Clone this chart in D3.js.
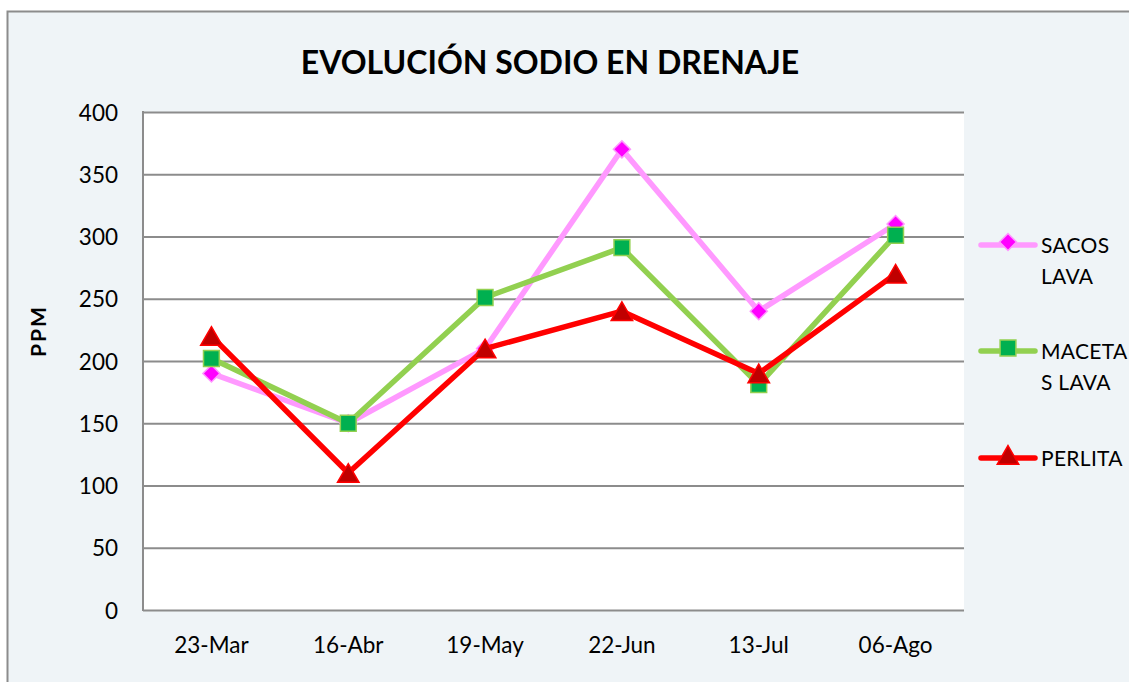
<!DOCTYPE html>
<html>
<head>
<meta charset="utf-8">
<script src="https://cdn.jsdelivr.net/npm/d3@7"></script>
<style>
  html, body { margin: 0; padding: 0; background: #ffffff; }
  svg { display: block; }
</style>
</head>
<body>
<svg id="chart" width="1129" height="682"></svg>
<script>
const categories = ["23-Mar", "16-Abr", "19-May", "22-Jun", "13-Jul", "06-Ago"];
const sacosLava = [190, 150, 210, 370, 240, 310];
const macetasLava = [202, 150, 251, 291, 181, 301];
const perlita = [220, 110, 210, 240, 190, 270];
const yTicks = [0, 50, 100, 150, 200, 250, 300, 350, 400];
const titleText = "EVOLUCIÓN SODIO EN DRENAJE";
const yLabel = "PPM";

const seriesList = [
  { name: ["SACOS", "LAVA"], values: sacosLava, line: "#ff99ff", fill: "#ff00ff", stroke: "#ff99ff", marker: "diamond" },
  { name: ["MACETA", "S LAVA"], values: macetasLava, line: "#92d050", fill: "#00b050", stroke: "#92d050", marker: "square" },
  { name: ["PERLITA"], values: perlita, line: "#ff0000", fill: "#c00000", stroke: "#ff0000", marker: "triangle" }
];

const svg = d3.select("#chart");
const font = "Lato, 'Open Sans', sans-serif";

// outer chart area
svg.append("rect").attr("x", 0).attr("y", 0).attr("width", 1129).attr("height", 682).attr("fill", "#ffffff");
svg.append("rect").attr("x", 7.5).attr("y", 11.5).attr("width", 1140).attr("height", 690)
  .attr("fill", "#eff4f7").attr("stroke", "#8c8c8c").attr("stroke-width", 2);

const plot = { left: 143, right: 964, top: 112, bottom: 610 };

const x = d3.scaleBand().domain(categories).range([plot.left, plot.right]);
const y = d3.scaleLinear().domain([0, 400]).range([plot.bottom, plot.top]);

svg.append("rect").attr("x", plot.left).attr("y", plot.top)
  .attr("width", plot.right - plot.left).attr("height", plot.bottom - plot.top)
  .attr("fill", "#ffffff");

// gridlines
const yAxis = d3.axisLeft(y).tickValues(yTicks).tickSize(-(plot.right - plot.left)).tickPadding(25).tickFormat(d3.format("d"));
const gy = svg.append("g").attr("transform", `translate(${plot.left},0)`).call(yAxis);
gy.select(".domain").remove();
gy.selectAll(".tick line").attr("stroke", "#8c8c8c").attr("stroke-width", 2);
gy.selectAll(".tick text").attr("font-family", font).attr("font-size", 22.5).attr("fill", "#000").attr("dy", "0.36em");

// left border
svg.append("line").attr("x1", plot.left).attr("x2", plot.left).attr("y1", plot.top - 1).attr("y2", plot.bottom + 1)
  .attr("stroke", "#8c8c8c").attr("stroke-width", 2);

// x axis labels
const xAxis = d3.axisBottom(x).tickSize(0).tickPadding(27);
const gx = svg.append("g").attr("transform", `translate(0,${plot.bottom})`).call(xAxis);
gx.select(".domain").remove();
gx.selectAll(".tick text").attr("font-family", font).attr("font-size", 22.5).attr("fill", "#000");

// title
svg.append("text").attr("x", 550).attr("y", 74).attr("text-anchor", "middle")
  .attr("font-family", font).attr("font-weight", "bold").attr("font-size", 32).attr("fill", "#000")
  .text(titleText);

// y label
svg.append("text").attr("transform", "translate(46,331) rotate(-90)").attr("text-anchor", "middle")
  .attr("font-family", font).attr("font-weight", "bold").attr("font-size", 21).attr("letter-spacing", 2).attr("fill", "#000")
  .text(yLabel);

const symbolFor = (m) => {
  if (m === "diamond") return d3.symbol().type(d3.symbolSquare).size(145);
  if (m === "square") return d3.symbol().type(d3.symbolSquare).size(250);
  return d3.symbol().type(d3.symbolTriangle).size(200);
};
const offsetFor = (m) => (m === "triangle" ? 3 : 0);

const lineGen = d3.line().x((d, i) => x(categories[i]) + x.bandwidth() / 2).y(d => y(d));

seriesList.forEach(s => {
  const g = svg.append("g");
  g.append("path").datum(s.values).attr("d", lineGen)
    .attr("fill", "none").attr("stroke", s.line).attr("stroke-width", 5.5).attr("stroke-linejoin", "round");
  g.selectAll("path.m").data(s.values).enter().append("path").attr("class", "m")
    .attr("d", symbolFor(s.marker)())
    .attr("transform", (d, i) => `translate(${x(categories[i]) + x.bandwidth() / 2},${y(d) + offsetFor(s.marker)})` + (s.marker === "diamond" ? " rotate(45)" : ""))
    .attr("fill", s.fill).attr("stroke", s.stroke).attr("stroke-width", 1.5);
});

// legend
const legendY = [245, 351, 458];
seriesList.forEach((s, k) => {
  const g = svg.append("g").attr("transform", `translate(0,${legendY[k]})`);
  g.append("line").attr("x1", 981).attr("x2", 1035).attr("y1", 0).attr("y2", 0)
    .attr("stroke", s.line).attr("stroke-width", 5.5).attr("stroke-linecap", "round");
  g.append("path").attr("d", symbolFor(s.marker)())
    .attr("transform", `translate(1008,${offsetFor(s.marker) - 3})` + (s.marker === "diamond" ? " rotate(45)" : ""))
    .attr("fill", s.fill).attr("stroke", s.stroke).attr("stroke-width", 1.5);
  s.name.forEach((t, j) => {
    g.append("text").attr("x", 1041).attr("y", 8 + j * 31)
      .attr("font-family", font).attr("font-size", 21).attr("letter-spacing", 0.3).attr("fill", "#000").text(t);
  });
});
</script>
</body>
</html>
